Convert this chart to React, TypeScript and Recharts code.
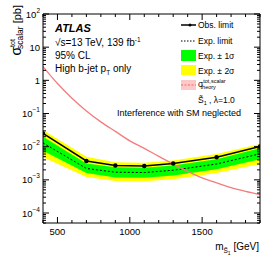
import React from 'react';
import { ComposedChart, Area, Line, XAxis, YAxis } from 'recharts';

// ---- data ----
const masses = [400, 500, 600, 700, 800, 900, 1000, 1100, 1200, 1300, 1400, 1500, 1600, 1700, 1800, 1900];
const theoryXsec = [2.6, 0.8, 0.29, 0.12, 0.056, 0.029, 0.015, 0.0089, 0.0051, 0.003, 0.0018, 0.00114, 0.00081, 0.00058, 0.00045, 0.00036];

const limitMasses = [400, 700, 900, 1100, 1300, 1600, 1900];
const obsLimit = [0.025, 0.0037, 0.0027, 0.0026, 0.0031, 0.0048, 0.0102];
const expLimit = [0.013, 0.0022, 0.0017, 0.00166, 0.00195, 0.003, 0.0061];
const exp1Up = [0.02, 0.0031, 0.0024, 0.0023, 0.0027, 0.0042, 0.009];
const exp1Down = [0.0075, 0.0016, 0.00118, 0.00115, 0.00135, 0.0021, 0.0042];
const exp2Up = [0.032, 0.005, 0.0034, 0.0033, 0.0038, 0.006, 0.012];
const exp2Down = [0.0048, 0.00122, 0.00092, 0.0009, 0.00105, 0.0016, 0.003];

const xTicks = [400, 500, 600, 700, 800, 900, 1000, 1100, 1200, 1300, 1400, 1500, 1600, 1700, 1800, 1900];
const xMajor = [500, 1000, 1500];
const yDecades = [1e-5, 1e-4, 1e-3, 1e-2, 1e-1, 1, 10, 100];
const yMultipliers = [1, 2, 3, 4, 5, 6, 7, 8, 9];
const yDomain: [number, number] = [5e-5, 100];

const yTicks: number[] = [];
yDecades.forEach((d) => yMultipliers.forEach((k) => {
  const v = d * k;
  if (v >= yDomain[0] * 0.999 && v <= yDomain[1] * 1.001) yTicks.push(v);
}));

const data = masses.map((m, i) => {
  const j = limitMasses.indexOf(m);
  return {
    m,
    theory: theoryXsec[i],
    obs: j >= 0 ? obsLimit[j] : null,
    exp: j >= 0 ? expLimit[j] : null,
    band1: j >= 0 ? [exp1Down[j], exp1Up[j]] : null,
    band2: j >= 0 ? [exp2Down[j], exp2Up[j]] : null,
  };
});

const FONT = '"Liberation Sans", Arial, Helvetica, sans-serif';

const XTick = (props: any) => {
  const { x, y, payload, top } = props;
  const v = payload.value;
  const major = xMajor.includes(v);
  const len = major ? 6 : 3;
  return (
    <g>
      <line x1={x} x2={x} y1={y} y2={top ? y + len : y - len} stroke="#000" strokeWidth={1} />
      {!top && major && (
        <text x={x} y={y + 12} textAnchor="middle" fontSize={9.5} fontFamily={FONT} fill="#000">{v}</text>
      )}
    </g>
  );
};

const YTick = (props: any) => {
  const { x, y, payload, right } = props;
  const v = payload.value;
  const lg = Math.log10(v);
  const e = Math.round(lg);
  const major = Math.abs(lg - e) < 1e-6;
  const len = major ? 6 : 3;
  let label: React.ReactNode = null;
  if (!right && major) {
    if (e === 0) label = <text x={x - 3} y={y + 3.5} textAnchor="end" fontSize={9.5} fontFamily={FONT}>1</text>;
    else if (e === 1) label = <text x={x - 3} y={y + 3.5} textAnchor="end" fontSize={9.5} fontFamily={FONT}>10</text>;
    else label = (
      <text x={x - 3} y={y + 3.5} textAnchor="end" fontSize={9.5} fontFamily={FONT}>
        10<tspan fontSize={6.5} dy={-5}>{e > 0 ? String(e) : '\u2212' + String(-e)}</tspan>
      </text>
    );
  }
  return (
    <g>
      <line x1={x} x2={right ? x - len : x + len} y1={y} y2={y} stroke="#000" strokeWidth={1} />
      {label}
    </g>
  );
};

export default function App() {
  return (
    <div style={{ position: 'absolute', left: 0, top: 0, width: 274, height: 266, background: '#fff' }}>
      <ComposedChart width={274} height={266} data={data} margin={{ top: 13, right: 13, bottom: 42, left: 42 }}>
        <XAxis xAxisId="b" dataKey="m" type="number" domain={[400, 1900]} allowDataOverflow ticks={xTicks} interval={0}
          tick={<XTick />} tickLine={false} tickSize={0} tickMargin={0} height={1} axisLine={{ stroke: '#000' }} />
        <XAxis xAxisId="t" orientation="top" dataKey="m" type="number" domain={[400, 1900]} allowDataOverflow ticks={xTicks} interval={0}
          tick={<XTick top />} tickLine={false} tickSize={0} tickMargin={0} height={1} axisLine={{ stroke: '#000' }} />
        <YAxis yAxisId="l" type="number" scale="log" domain={yDomain} allowDataOverflow ticks={yTicks} interval={0}
          tick={<YTick />} tickLine={false} tickSize={0} tickMargin={0} width={1} axisLine={{ stroke: '#000' }} />
        <YAxis yAxisId="r" orientation="right" type="number" scale="log" domain={yDomain} allowDataOverflow ticks={yTicks} interval={0}
          tick={<YTick right />} tickLine={false} tickSize={0} tickMargin={0} width={1} axisLine={{ stroke: '#000' }} />
        <Area xAxisId="b" yAxisId="l" dataKey="band2" type="linear" fill="#ffff00" fillOpacity={1} stroke="none" connectNulls isAnimationActive={false} />
        <Area xAxisId="b" yAxisId="l" dataKey="band1" type="linear" fill="#00ff00" fillOpacity={1} stroke="none" connectNulls isAnimationActive={false} />
        <Line xAxisId="b" yAxisId="l" dataKey="exp" type="linear" stroke="#000" strokeWidth={1} strokeDasharray="2 2" dot={false} connectNulls isAnimationActive={false} />
        <Line xAxisId="b" yAxisId="l" dataKey="obs" type="linear" stroke="#000" strokeWidth={1.5} dot={{ r: 1.5, fill: '#000', stroke: '#000' }} connectNulls isAnimationActive={false} />
        <Line xAxisId="b" yAxisId="l" dataKey="theory" type="monotone" stroke="#f47c7c" strokeWidth={1.3} dot={false} connectNulls isAnimationActive={false} />
      </ComposedChart>
      <svg width={274} height={266} style={{ position: 'absolute', left: 0, top: 0, pointerEvents: 'none' }} fontFamily={FONT}>
        {/* y axis title */}
        <text transform="translate(21,5) rotate(-90)" textAnchor="end" fontSize={11} fill="#000">
          <tspan fontSize={14}>σ</tspan>
          <tspan fontSize={7} dy={-6}>tot</tspan>
          <tspan fontSize={8.5} dx={-10} dy={8}>scalar</tspan>
          <tspan fontSize={11} dy={-2}> [pb]</tspan>
        </text>
        {/* x axis title */}
        <text x={259} y={250} textAnchor="end" fontSize={10} fill="#000">
          m<tspan fontSize={6.5} dy={3}>S̃</tspan><tspan fontSize={5} dy={2}>1</tspan><tspan fontSize={10} dy={-5}> [GeV]</tspan>
        </text>
        {/* ATLAS label */}
        <text x={55} y={32} fontSize={11} fontWeight="bold" fontStyle="italic">ATLAS</text>
        <text x={55} y={46} fontSize={10}>√s=13 TeV, 139 fb<tspan fontSize={6.5} dy={-4}>-1</tspan></text>
        <text x={55} y={59} fontSize={10}>95% CL</text>
        <text x={55} y={72} fontSize={10}>High b-jet p<tspan fontSize={6.5} dy={3}>T</tspan><tspan dy={-3}> only</tspan></text>
        <text x={117} y={116} fontSize={9}>Interference with SM neglected</text>
        {/* legend */}
        <line x1={181} x2={196} y1={25} y2={25} stroke="#000" strokeWidth={1.5} />
        <circle cx={190} cy={25} r={1.5} fill="#000" />
        <text x={198} y={28} fontSize={8.5}>Obs. limit</text>
        <line x1={181} x2={196} y1={41} y2={41} stroke="#000" strokeWidth={1} strokeDasharray="1.5 1.5" />
        <text x={198} y={44} fontSize={8.5}>Exp. limit</text>
        <rect x={181} y={50} width={15} height={11} fill="#00ff00" />
        <text x={198} y={59} fontSize={8.5}>Exp. ± 1σ</text>
        <rect x={181} y={65} width={15} height={10} fill="#ffff00" />
        <text x={198} y={74} fontSize={8.5}>Exp. ± 2σ</text>
        <rect x={181} y={80} width={15} height={10} fill="#fcc8c8" />
        <line x1={181} x2={196} y1={85} y2={85} stroke="#f05050" strokeWidth={0.8} strokeDasharray="2 1.5" />
        <text x={198} y={87} fontSize={8.5}>
          σ<tspan fontSize={5.5} dy={-4}>tot,scalar</tspan><tspan fontSize={5.5} dx={-25} dy={6}>theory</tspan>
        </text>
        <text x={198} y={103} fontSize={8.5}>S̃<tspan fontSize={5.5} dy={2}>1</tspan><tspan dy={-2}> , λ=1.0</tspan></text>
      </svg>
    </div>
  );
}
